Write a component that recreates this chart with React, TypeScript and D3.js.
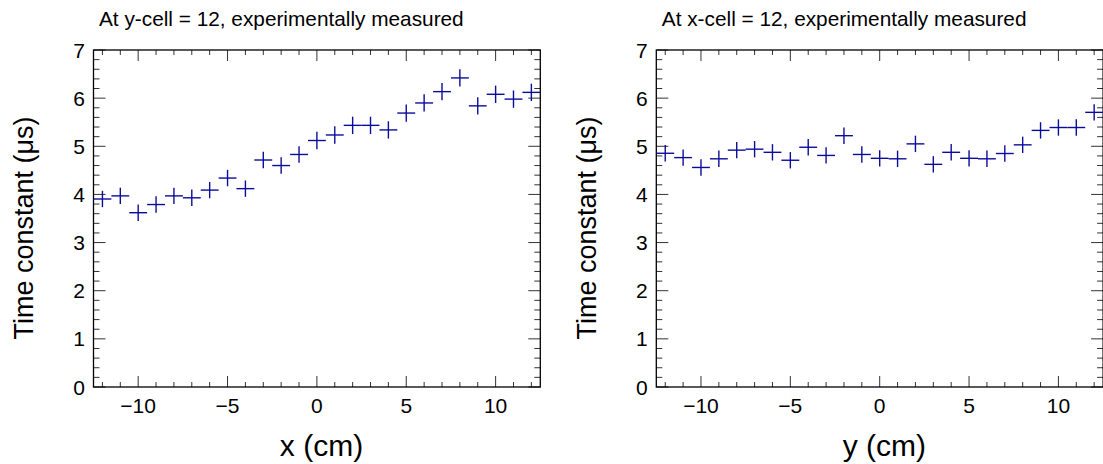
import React from "react";
import * as d3 from "d3";

// ---- data ----
const positions = [-12, -11, -10, -9, -8, -7, -6, -5, -4, -3, -2, -1, 0, 1, 2, 3, 4, 5, 6, 7, 8, 9, 10, 11, 12];
const leftValues = [3.905, 3.97, 3.62, 3.79, 3.97, 3.93, 4.09, 4.34, 4.12, 4.715, 4.6, 4.83, 5.12, 5.235, 5.435, 5.435, 5.34, 5.69, 5.9, 6.135, 6.42, 5.84, 6.08, 5.98, 6.12];
const leftErrors = [0.17, 0.17, 0.17, 0.17, 0.17, 0.17, 0.17, 0.17, 0.17, 0.17, 0.17, 0.17, 0.18, 0.18, 0.18, 0.18, 0.18, 0.18, 0.18, 0.18, 0.18, 0.18, 0.18, 0.18, 0.18];
const rightValues = [4.855, 4.765, 4.56, 4.74, 4.92, 4.94, 4.875, 4.71, 4.98, 4.81, 5.22, 4.83, 4.75, 4.74, 5.05, 4.625, 4.875, 4.75, 4.74, 4.85, 5.03, 5.33, 5.39, 5.39, 5.705];
const rightErrors = [0.17, 0.17, 0.17, 0.17, 0.17, 0.17, 0.17, 0.17, 0.17, 0.17, 0.17, 0.17, 0.17, 0.17, 0.17, 0.17, 0.17, 0.17, 0.17, 0.17, 0.17, 0.17, 0.17, 0.17, 0.17];
const xMajorTicks = [-10, -5, 0, 5, 10];
const yMajorTicks = [0, 1, 2, 3, 4, 5, 6, 7];
const xDomain: [number, number] = [-12.5, 12.5];
const yDomain: [number, number] = [0, 7];
const binHalfWidth = 0.5;

const FONT = "'Liberation Sans', Arial, Helvetica, sans-serif";
const MARK = "#0c0c9c";

function fmt(v: number) {
  return v < 0 ? "\u2212" + Math.abs(v) : String(v);
}

type PanelProps = {
  x0: number;
  title: string;
  xLabel: string;
  values: number[];
  errors: number[];
};

function Panel({ x0, title, xLabel, values, errors }: PanelProps) {
  const W = 446.8;
  const top = 50;
  const bottom = 387;
  const x = d3.scaleLinear().domain(xDomain).range([x0, x0 + W]);
  const y = d3.scaleLinear().domain(yDomain).range([bottom, top]);
  const xMinor = d3.range(-12, 13, 1).filter((v) => !xMajorTicks.includes(v));
  const yMinor = d3.range(0, 7.0001, 0.2).filter((v) => Math.abs(v - Math.round(v)) > 1e-6);
  const right = x0 + W;
  return (
    <g>
      <text x={x0 + 5.5} y={26} fontFamily={FONT} fontSize={20.8} fill="#000">
        {title}
      </text>
      {/* ticks */}
      <g stroke="#333" strokeWidth={1}>
        {xMajorTicks.map((v) => (
          <g key={"xM" + v}>
            <line x1={x(v)} x2={x(v)} y1={bottom} y2={bottom - 11} />
            <line x1={x(v)} x2={x(v)} y1={top} y2={top + 11} />
          </g>
        ))}
        {xMinor.map((v) => (
          <g key={"xm" + v}>
            <line x1={x(v)} x2={x(v)} y1={bottom} y2={bottom - 5} />
            <line x1={x(v)} x2={x(v)} y1={top} y2={top + 5} />
          </g>
        ))}
        {yMajorTicks.map((v) => (
          <g key={"yM" + v}>
            <line x1={x0} x2={x0 + 12} y1={y(v)} y2={y(v)} />
            <line x1={right} x2={right - 12} y1={y(v)} y2={y(v)} />
          </g>
        ))}
        {yMinor.map((v, i) => (
          <g key={"ym" + i}>
            <line x1={x0} x2={x0 + 6} y1={y(v)} y2={y(v)} />
            <line x1={right} x2={right - 6} y1={y(v)} y2={y(v)} />
          </g>
        ))}
      </g>
      <rect x={x0} y={top} width={W} height={bottom - top} fill="none" stroke="#000" strokeWidth={1.3} />
      {/* tick labels */}
      {xMajorTicks.map((v) => (
        <text key={"xl" + v} x={x(v)} y={413} textAnchor="middle" fontFamily={FONT} fontSize={21} fill="#000">
          {fmt(v)}
        </text>
      ))}
      {yMajorTicks.map((v) => (
        <text key={"yl" + v} x={x0 - 8.5} y={y(v)} dy="0.36em" textAnchor="end" fontFamily={FONT} fontSize={21} fill="#000">
          {v}
        </text>
      ))}
      <text x={x0 + 228} y={456} textAnchor="middle" fontFamily={FONT} fontSize={30} fill="#000">
        {xLabel}
      </text>
      <text
        transform={`translate(${x0 - 60.5},${228}) rotate(-90)`}
        textAnchor="middle"
        fontFamily={FONT}
        fontSize={27}
        fill="#000"
      >
        Time constant (μs)
      </text>
      {/* data */}
      <g stroke={MARK} strokeWidth={1.4}>
        {positions.map((p, i) => (
          <g key={"d" + i}>
            <line x1={x(p - binHalfWidth)} x2={x(p + binHalfWidth)} y1={y(values[i])} y2={y(values[i])} />
            <line x1={x(p)} x2={x(p)} y1={y(values[i] - errors[i])} y2={y(values[i] + errors[i])} />
          </g>
        ))}
      </g>
    </g>
  );
}

export default function App() {
  return (
    <svg
      width={1103}
      height={464}
      style={{ position: "absolute", left: 0, top: 0, background: "#fff" }}
    >
      <rect x={0} y={0} width={1103} height={464} fill="#fff" />
      <Panel x0={93.5} title="At y-cell = 12, experimentally measured" xLabel="x (cm)" values={leftValues} errors={leftErrors} />
      <Panel x0={656.3} title="At x-cell = 12, experimentally measured" xLabel="y (cm)" values={rightValues} errors={rightErrors} />
    </svg>
  );
}
